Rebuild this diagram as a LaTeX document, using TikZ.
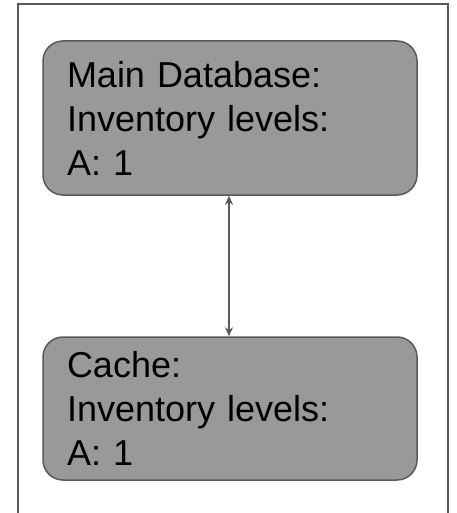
\documentclass[tikz,border=0pt]{standalone}
\usepackage{fontspec}
\setmainfont{Liberation Sans}
\usepackage{xcolor}
\usepackage{tikz}
\usetikzlibrary{arrows.meta,positioning}

\definecolor{boxgray}{HTML}{999999}
\definecolor{edgegray}{HTML}{595959}

\begin{document}
\begin{tikzpicture}[
    x=1pt, y=1pt,
    store/.style={rectangle, draw=edgegray, fill=boxgray, line width=1.5pt, rounded corners=20pt, minimum width=374pt, text width=326pt, inner xsep=24pt, align=left, font=\fontsize{36}{44}\selectfont},
    arrow/.style={{Stealth[length=9pt,width=8pt]}-{Stealth[length=9pt,width=8pt]}, draw=edgegray, line width=1.5pt},
]
    \clip (0,0) rectangle (456,-513);
    \draw[edgegray, line width=1.5pt] (18,-520) -- (18,-4) -- (448,-4) -- (448,-520);

    \node[store, minimum height=154pt] (maindb) at (230,-118) {Main Database:\\Inventory levels:\\A: 1};
    \node[store, minimum height=143pt] (cache) at (230,-408.5) {Cache:\\Inventory levels:\\A: 1};

    \draw[arrow] ([xshift=-1pt]maindb.south) -- ([xshift=-1pt]cache.north);
\end{tikzpicture}
\end{document}
